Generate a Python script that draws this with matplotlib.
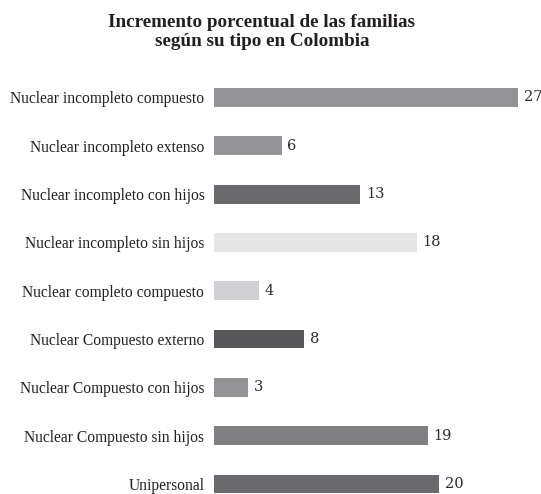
import matplotlib
matplotlib.use("Agg")
import matplotlib.pyplot as plt

# Data
categories = [
    "Nuclear incompleto compuesto",
    "Nuclear incompleto extenso",
    "Nuclear incompleto con hijos",
    "Nuclear incompleto sin hijos",
    "Nuclear completo compuesto",
    "Nuclear Compuesto externo",
    "Nuclear Compuesto con hijos",
    "Nuclear Compuesto sin hijos",
    "Unipersonal",
]
values = [27, 6, 13, 18, 4, 8, 3, 19, 20]
colors = ["#939396", "#939396", "#6a6a6e", "#e6e6e7", "#d0d0d2",
          "#58585b", "#939396", "#808083", "#6a6a6e"]

title = "Incremento porcentual de las familias\nsegún su tipo en Colombia"

plt.rcParams["font.family"] = ["Liberation Serif", "DejaVu Serif"]

fig = plt.figure(figsize=(5.41, 4.94), dpi=100)
ax = fig.add_axes([214 / 541, 0, 1 - 214 / 541, 1 - 73 / 494])

ypos = list(range(len(categories)))
ax.barh(ypos, values, height=0.39, color=colors)

# value labels next to each bar
for y, v in zip(ypos, values):
    ax.text(v + 0.5, y, str(v), va="center", ha="left", fontsize=10.5,
            color="#2b2b2b", family=["DejaVu Serif"])

ax.set_xlim(0, 29.04)
ax.set_ylim(8.207, -0.507)
ax.set_yticks(ypos)
ax.set_yticklabels(categories, fontsize=11.2, color="#231f20")
ax.tick_params(axis="y", length=0, pad=7)
ax.set_xticks([])
for s in ax.spines.values():
    s.set_visible(False)

fig.text(262 / 541, 1 - 32 / 494, title, ha="center", va="center",
         fontsize=13.8, fontweight="bold", color="#231f20",
         linespacing=1.12)

fig.savefig("out.png", dpi=100)
